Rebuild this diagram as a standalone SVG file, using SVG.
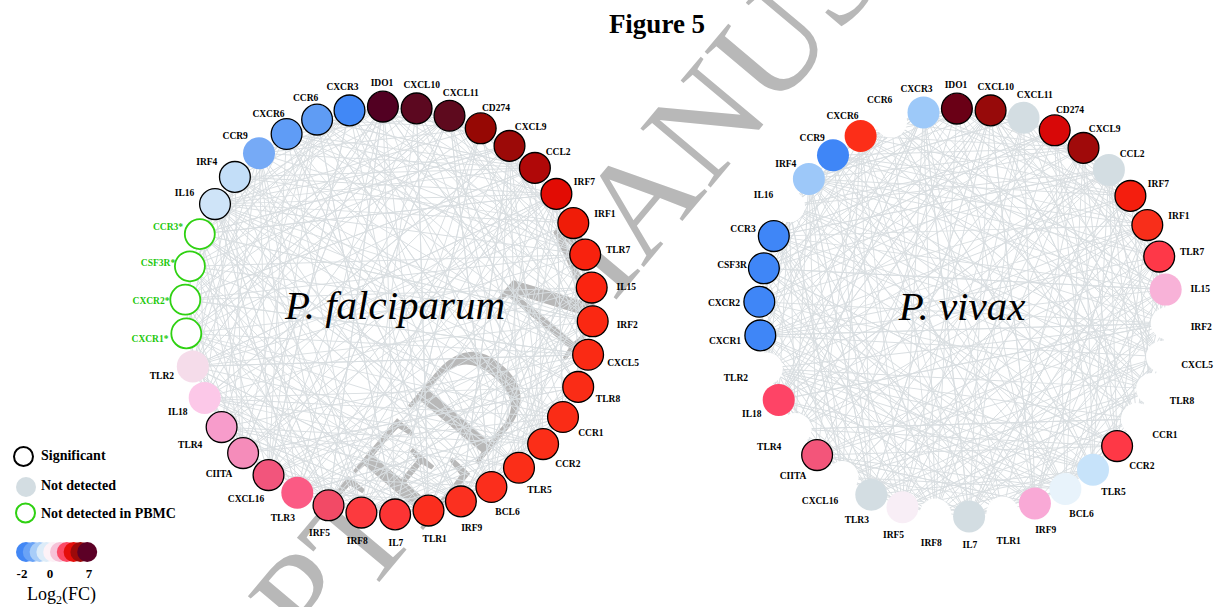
<svg xmlns="http://www.w3.org/2000/svg" xmlns:xlink="http://www.w3.org/1999/xlink" width="1216" height="607" viewBox="0 0 1216 607">
<style>
.e{fill:none;stroke:#d9dee1;stroke-width:0.9}
.s{stroke:#000;stroke-width:1.3}
.g{fill:#fff;stroke:#2fd112;stroke-width:1.8}
.lb{font-family:"Liberation Serif","Times New Roman",serif;font-weight:bold;font-size:9.5px;text-anchor:middle;fill:#000}
.lg{fill:#22c80a}
.leg{font-family:"Liberation Serif","Times New Roman",serif;font-weight:bold;font-size:14px;fill:#000}
.sp{font-family:"Liberation Serif","Times New Roman",serif;font-style:italic;font-size:41px;text-anchor:middle;fill:#000}
</style>
<defs>
<path id="sA" d="M0-204L125.3-160.98M0-204L203.31-16.85M0-204L125.3 160.98M0-204L0 204M0-204L-150.08 138.17M0-204L-186.82-81.95"/>
<path id="sB" d="M0-204L170.79-111.57M0-204L197.76 50.08M0-204L170.79 111.57M0-204L66.24 192.94M0-204L-97.08 179.42M0-204L-203.31 16.85"/>
<path id="sC" d="M0-204L97.08-179.42M0-204L197.76-50.08M0-204L150.08 138.17M0-204L-33.58 201.23M0-204L-186.82 81.95M0-204L-150.08-138.17"/>
<path id="sD" d="M0-204L150.08-138.17M0-204L203.31 16.85M0-204L97.08 179.42M0-204L33.58 201.23M0-204L-170.79 111.57M0-204L-203.31-16.85"/>
<path id="sE" d="M0-204L66.24-192.94M0-204L186.82-81.95M0-204L186.82 81.95M0-204L-66.24 192.94M0-204L-197.76 50.08M0-204L-97.08-179.42"/>
</defs>
<rect width="1216" height="607" fill="#fff"/>
<g id="watermark">
<text x="-933" y="46" transform="translate(640 200) rotate(-50)" font-family="Liberation Serif, serif" font-size="140" fill="#b8b8b8">ACCEPTED MANUSCRIPT</text>
</g>
<g id="edges-pf" class="e" transform="translate(389 310.5)">
<use href="#sA" transform="rotate(-1.7)"/><use href="#sB" transform="rotate(7.774)"/><use href="#sC" transform="rotate(17.247)"/><use href="#sD" transform="rotate(26.721)"/>
<use href="#sB" transform="rotate(36.195)"/><use href="#sA" transform="rotate(45.668)"/><use href="#sD" transform="rotate(55.142)"/><use href="#sC" transform="rotate(64.616)"/>
<use href="#sA" transform="rotate(74.09)"/><use href="#sC" transform="rotate(83.563)"/><use href="#sB" transform="rotate(93.037)"/><use href="#sD" transform="rotate(102.511)"/>
<use href="#sC" transform="rotate(111.984)"/><use href="#sA" transform="rotate(121.458)"/><use href="#sB" transform="rotate(130.932)"/><use href="#sD" transform="rotate(140.405)"/>
<use href="#sA" transform="rotate(149.879)"/><use href="#sD" transform="rotate(159.353)"/><use href="#sC" transform="rotate(168.826)"/><use href="#sB" transform="rotate(178.3)"/>
<use href="#sA" transform="rotate(187.774)"/><use href="#sB" transform="rotate(197.247)"/><use href="#sD" transform="rotate(206.721)"/><use href="#sC" transform="rotate(216.195)"/>
<use href="#sC" transform="rotate(225.668)"/><use href="#sA" transform="rotate(235.142)"/><use href="#sD" transform="rotate(244.616)"/><use href="#sB" transform="rotate(254.089)"/>
<use href="#sA" transform="rotate(263.563)"/><use href="#sC" transform="rotate(273.037)"/><use href="#sD" transform="rotate(282.511)"/><use href="#sB" transform="rotate(291.984)"/>
<use href="#sB" transform="rotate(301.458)"/><use href="#sD" transform="rotate(310.932)"/><use href="#sA" transform="rotate(320.405)"/><use href="#sC" transform="rotate(329.879)"/>
<use href="#sD" transform="rotate(339.353)"/><use href="#sA" transform="rotate(348.826)"/>
<use href="#sE" transform="rotate(-1.7)"/><use href="#sE" transform="rotate(17.247)"/><use href="#sE" transform="rotate(36.195)"/><use href="#sE" transform="rotate(55.142)"/>
<use href="#sE" transform="rotate(74.09)"/><use href="#sE" transform="rotate(93.037)"/><use href="#sE" transform="rotate(111.984)"/><use href="#sE" transform="rotate(130.932)"/>
<use href="#sE" transform="rotate(149.879)"/><use href="#sE" transform="rotate(168.826)"/><use href="#sE" transform="rotate(187.774)"/><use href="#sE" transform="rotate(206.721)"/>
<use href="#sE" transform="rotate(225.668)"/><use href="#sE" transform="rotate(244.616)"/><use href="#sE" transform="rotate(263.563)"/><use href="#sE" transform="rotate(282.511)"/>
<use href="#sE" transform="rotate(301.458)"/><use href="#sE" transform="rotate(320.405)"/><use href="#sE" transform="rotate(339.353)"/>
</g>
<g id="edges-pv" class="e" transform="translate(963 312.5)">
<use href="#sC" transform="rotate(-1.7)"/><use href="#sD" transform="rotate(7.774)"/><use href="#sA" transform="rotate(17.247)"/><use href="#sB" transform="rotate(26.721)"/>
<use href="#sD" transform="rotate(36.195)"/><use href="#sC" transform="rotate(45.668)"/><use href="#sB" transform="rotate(55.142)"/><use href="#sA" transform="rotate(64.616)"/>
<use href="#sC" transform="rotate(74.09)"/><use href="#sA" transform="rotate(83.563)"/><use href="#sD" transform="rotate(93.037)"/><use href="#sB" transform="rotate(102.511)"/>
<use href="#sA" transform="rotate(111.984)"/><use href="#sC" transform="rotate(121.458)"/><use href="#sD" transform="rotate(130.932)"/><use href="#sB" transform="rotate(140.405)"/>
<use href="#sC" transform="rotate(149.879)"/><use href="#sB" transform="rotate(159.353)"/><use href="#sA" transform="rotate(168.826)"/><use href="#sD" transform="rotate(178.3)"/>
<use href="#sC" transform="rotate(187.774)"/><use href="#sD" transform="rotate(197.247)"/><use href="#sB" transform="rotate(206.721)"/><use href="#sA" transform="rotate(216.195)"/>
<use href="#sA" transform="rotate(225.668)"/><use href="#sC" transform="rotate(235.142)"/><use href="#sB" transform="rotate(244.616)"/><use href="#sD" transform="rotate(254.089)"/>
<use href="#sC" transform="rotate(263.563)"/><use href="#sA" transform="rotate(273.037)"/><use href="#sB" transform="rotate(282.511)"/><use href="#sD" transform="rotate(291.984)"/>
<use href="#sD" transform="rotate(301.458)"/><use href="#sB" transform="rotate(310.932)"/><use href="#sC" transform="rotate(320.405)"/><use href="#sA" transform="rotate(329.879)"/>
<use href="#sB" transform="rotate(339.353)"/><use href="#sC" transform="rotate(348.826)"/>
<use href="#sE" transform="rotate(7.774)"/><use href="#sE" transform="rotate(26.721)"/><use href="#sE" transform="rotate(45.668)"/><use href="#sE" transform="rotate(64.616)"/>
<use href="#sE" transform="rotate(83.563)"/><use href="#sE" transform="rotate(102.511)"/><use href="#sE" transform="rotate(121.458)"/><use href="#sE" transform="rotate(140.405)"/>
<use href="#sE" transform="rotate(159.353)"/><use href="#sE" transform="rotate(178.3)"/><use href="#sE" transform="rotate(197.247)"/><use href="#sE" transform="rotate(216.195)"/>
<use href="#sE" transform="rotate(235.142)"/><use href="#sE" transform="rotate(254.089)"/><use href="#sE" transform="rotate(273.037)"/><use href="#sE" transform="rotate(291.984)"/>
<use href="#sE" transform="rotate(310.932)"/><use href="#sE" transform="rotate(329.879)"/><use href="#sE" transform="rotate(348.826)"/>
</g>
<text id="title" x="657" y="33" font-family="Liberation Serif, serif" font-weight="bold" font-size="27" text-anchor="middle">Figure 5</text>
<text id="label-pf" class="sp" x="395" y="319">P. falciparum</text>
<text id="label-pv" class="sp" x="962" y="320">P. vivax</text>
<g id="pf-nodes">
<g id="pf-IDO1"><circle cx="382.9" cy="106.6" r="15.4" class="s" fill="#520022"/><text class="lb" x="382" y="86.1">IDO1</text></g>
<g id="pf-CXCL10"><circle cx="416.6" cy="108.4" r="15.4" class="s" fill="#5c0820"/><text class="lb" x="421.7" y="88.1">CXCL10</text></g>
<g id="pf-CXCL11"><circle cx="449.5" cy="115.7" r="15.4" class="s" fill="#5e0a1e"/><text class="lb" x="460.8" y="96.3">CXCL11</text></g>
<g id="pf-CD274"><circle cx="480.7" cy="128.3" r="15.4" class="s" fill="#960804"/><text class="lb" x="496" y="110.6">CD274</text></g>
<g id="pf-CXCL9"><circle cx="509.5" cy="145.9" r="15.4" class="s" fill="#9c0a08"/><text class="lb" x="530.7" y="130.4">CXCL9</text></g>
<g id="pf-CCL2"><circle cx="534.9" cy="167.9" r="15.4" class="s" fill="#b00808"/><text class="lb" x="558.1" y="155.2">CCL2</text></g>
<g id="pf-IRF7"><circle cx="556.4" cy="193.9" r="15.4" class="s" fill="#e20c04"/><text class="lb" x="584.4" y="184.5">IRF7</text></g>
<g id="pf-IRF1"><circle cx="573.3" cy="223.1" r="15.4" class="s" fill="#f01c08"/><text class="lb" x="604.9" y="217.4">IRF1</text></g>
<g id="pf-TLR7"><circle cx="585.2" cy="254.6" r="15.4" class="s" fill="#f8220e"/><text class="lb" x="618.1" y="253">TLR7</text></g>
<g id="pf-IL15"><circle cx="591.7" cy="287.6" r="15.4" class="s" fill="#fa2410"/><text class="lb" x="626.3" y="290.2">IL15</text></g>
<g id="pf-IRF2"><circle cx="592.7" cy="321.3" r="15.4" class="s" fill="#fa2812"/><text class="lb" x="627.2" y="328.2">IRF2</text></g>
<g id="pf-CXCL5"><circle cx="588.1" cy="354.7" r="15.4" class="s" fill="#fa2a14"/><text class="lb" x="623.1" y="365.8">CXCL5</text></g>
<g id="pf-TLR8"><circle cx="578.2" cy="386.9" r="15.4" class="s" fill="#fa2c16"/><text class="lb" x="608" y="402.1">TLR8</text></g>
<g id="pf-CCR1"><circle cx="563" cy="417" r="15.4" class="s" fill="#fa2c16"/><text class="lb" x="590.9" y="436">CCR1</text></g>
<g id="pf-CCR2"><circle cx="543.1" cy="444.1" r="15.4" class="s" fill="#fb2e18"/><text class="lb" x="567.8" y="466.7">CCR2</text></g>
<g id="pf-TLR5"><circle cx="519" cy="467.7" r="15.4" class="s" fill="#fb2e18"/><text class="lb" x="539.5" y="493.3">TLR5</text></g>
<g id="pf-BCL6"><circle cx="491.4" cy="487" r="15.4" class="s" fill="#fb2e1c"/><text class="lb" x="507.5" y="515">BCL6</text></g>
<g id="pf-IRF9"><circle cx="460.9" cy="501.4" r="15.4" class="s" fill="#fb3020"/><text class="lb" x="471.7" y="531.2">IRF9</text></g>
<g id="pf-TLR1"><circle cx="428.5" cy="510.6" r="15.4" class="s" fill="#fb2e1e"/><text class="lb" x="434.7" y="541.7">TLR1</text></g>
<g id="pf-IL7"><circle cx="395.1" cy="514.4" r="15.4" class="s" fill="#fc3434"/><text class="lb" x="395.9" y="545.9">IL7</text></g>
<g id="pf-IRF8"><circle cx="361.4" cy="512.6" r="15.4" class="s" fill="#fc3a3e"/><text class="lb" x="357.3" y="543.9">IRF8</text></g>
<g id="pf-IRF5"><circle cx="328.5" cy="505.3" r="15.4" class="s" fill="#f24a66"/><text class="lb" x="319.5" y="535.7">IRF5</text></g>
<g id="pf-TLR3"><circle cx="297.3" cy="492.7" r="16" fill="#fb5a84"/><text class="lb" x="282.8" y="521.4">TLR3</text></g>
<g id="pf-CXCL16"><circle cx="268.5" cy="475.1" r="15.4" class="s" fill="#f2557c"/><text class="lb" x="246" y="501.6">CXCL16</text></g>
<g id="pf-CIITA"><circle cx="243.1" cy="453.1" r="15.4" class="s" fill="#f58cba"/><text class="lb" x="219" y="476.8">CIITA</text></g>
<g id="pf-TLR4"><circle cx="221.6" cy="427.1" r="15.4" class="s" fill="#f79ccb"/><text class="lb" x="190.2" y="447.5">TLR4</text></g>
<g id="pf-IL18"><circle cx="204.7" cy="397.9" r="16" fill="#fcc8e8"/><text class="lb" x="177.8" y="414.6">IL18</text></g>
<g id="pf-TLR2"><circle cx="192.8" cy="366.4" r="16" fill="#f5dcea"/><text class="lb" x="161.9" y="379">TLR2</text></g>
<g id="pf-CXCR1"><circle cx="186.3" cy="333.4" r="15" class="g"/><text class="lb lg" x="150" y="341.8">CXCR1*</text></g>
<g id="pf-CXCR2"><circle cx="185.3" cy="299.7" r="15" class="g"/><text class="lb lg" x="151" y="303.8">CXCR2*</text></g>
<g id="pf-CSF3R"><circle cx="189.9" cy="266.3" r="15" class="g"/><text class="lb lg" x="158" y="266.2">CSF3R*</text></g>
<g id="pf-CCR3"><circle cx="199.8" cy="234.1" r="15" class="g"/><text class="lb lg" x="168" y="229.9">CCR3*</text></g>
<g id="pf-IL16"><circle cx="215" cy="204.1" r="15.4" class="s" fill="#cfe4f8"/><text class="lb" x="184.6" y="196">IL16</text></g>
<g id="pf-IRF4"><circle cx="234.9" cy="176.9" r="15.4" class="s" fill="#c3def8"/><text class="lb" x="206.8" y="165.3">IRF4</text></g>
<g id="pf-CCR9"><circle cx="259" cy="153.3" r="16" fill="#76aaf6"/><text class="lb" x="235.2" y="138.7">CCR9</text></g>
<g id="pf-CXCR6"><circle cx="286.6" cy="134" r="15.4" class="s" fill="#5f9cf6"/><text class="lb" x="268.5" y="117">CXCR6</text></g>
<g id="pf-CCR6"><circle cx="317.1" cy="119.6" r="15.4" class="s" fill="#5f9cf4"/><text class="lb" x="305.6" y="100.8">CCR6</text></g>
<g id="pf-CXCR3"><circle cx="349.5" cy="110.4" r="15.4" class="s" fill="#4188f6"/><text class="lb" x="342.5" y="90.3">CXCR3</text></g>
</g>
<g id="pv-nodes">
<g id="pv-IDO1"><circle cx="956.9" cy="108.6" r="15.4" class="s" fill="#6a0016"/><text class="lb" x="956" y="88.1">IDO1</text></g>
<g id="pv-CXCL10"><circle cx="990.6" cy="110.4" r="15.4" class="s" fill="#970a0a"/><text class="lb" x="995.7" y="90.1">CXCL10</text></g>
<g id="pv-CXCL11"><circle cx="1023.5" cy="117.7" r="16" fill="#d3dde2"/><text class="lb" x="1034.8" y="98.3">CXCL11</text></g>
<g id="pv-CD274"><circle cx="1054.7" cy="130.3" r="15.4" class="s" fill="#d80808"/><text class="lb" x="1070" y="112.6">CD274</text></g>
<g id="pv-CXCL9"><circle cx="1083.5" cy="147.9" r="15.4" class="s" fill="#a00a0a"/><text class="lb" x="1104.7" y="132.4">CXCL9</text></g>
<g id="pv-CCL2"><circle cx="1108.9" cy="169.9" r="16" fill="#d3dde2"/><text class="lb" x="1132.1" y="157.2">CCL2</text></g>
<g id="pv-IRF7"><circle cx="1130.4" cy="195.9" r="15.4" class="s" fill="#f41e0e"/><text class="lb" x="1158.4" y="186.5">IRF7</text></g>
<g id="pv-IRF1"><circle cx="1147.3" cy="225.1" r="15.4" class="s" fill="#f82e1a"/><text class="lb" x="1178.9" y="219.4">IRF1</text></g>
<g id="pv-TLR7"><circle cx="1159.2" cy="256.6" r="15.4" class="s" fill="#fe3848"/><text class="lb" x="1192.1" y="255">TLR7</text></g>
<g id="pv-IL15"><circle cx="1165.7" cy="289.6" r="16" fill="#f8b2d8"/><text class="lb" x="1200.3" y="292.2">IL15</text></g>
<g id="pv-IRF2"><circle cx="1166.7" cy="323.3" r="16" fill="#fff"/><text class="lb" x="1201.2" y="330.2">IRF2</text></g>
<g id="pv-CXCL5"><circle cx="1162.1" cy="356.7" r="16" fill="#fff"/><text class="lb" x="1197.1" y="367.8">CXCL5</text></g>
<g id="pv-TLR8"><circle cx="1152.2" cy="388.9" r="16" fill="#fff"/><text class="lb" x="1182" y="404.1">TLR8</text></g>
<g id="pv-CCR1"><circle cx="1137" cy="419" r="16" fill="#fff"/><text class="lb" x="1164.9" y="438">CCR1</text></g>
<g id="pv-CCR2"><circle cx="1117.1" cy="446.1" r="15.4" class="s" fill="#fe3846"/><text class="lb" x="1141.8" y="468.7">CCR2</text></g>
<g id="pv-TLR5"><circle cx="1093" cy="469.7" r="16" fill="#c7e3fa"/><text class="lb" x="1113.5" y="495.3">TLR5</text></g>
<g id="pv-BCL6"><circle cx="1065.4" cy="489" r="16" fill="#e8f3fb"/><text class="lb" x="1081.5" y="517">BCL6</text></g>
<g id="pv-IRF9"><circle cx="1034.9" cy="503.4" r="16" fill="#f9a9d6"/><text class="lb" x="1045.7" y="533.2">IRF9</text></g>
<g id="pv-TLR1"><circle cx="1002.5" cy="512.6" r="16" fill="#fff"/><text class="lb" x="1008.7" y="543.7">TLR1</text></g>
<g id="pv-IL7"><circle cx="969.1" cy="516.4" r="16" fill="#d3dde2"/><text class="lb" x="969.9" y="547.9">IL7</text></g>
<g id="pv-IRF8"><circle cx="935.4" cy="514.6" r="16" fill="#fff"/><text class="lb" x="931.3" y="545.9">IRF8</text></g>
<g id="pv-IRF5"><circle cx="902.5" cy="507.3" r="16" fill="#f8eef6"/><text class="lb" x="893.5" y="537.7">IRF5</text></g>
<g id="pv-TLR3"><circle cx="871.3" cy="494.7" r="16" fill="#d3dde2"/><text class="lb" x="856.8" y="523.4">TLR3</text></g>
<g id="pv-CXCL16"><circle cx="842.5" cy="477.1" r="16" fill="#fff"/><text class="lb" x="820" y="503.6">CXCL16</text></g>
<g id="pv-CIITA"><circle cx="817.1" cy="455.1" r="15.4" class="s" fill="#f3557a"/><text class="lb" x="793" y="478.8">CIITA</text></g>
<g id="pv-TLR4"><circle cx="795.6" cy="429.1" r="16" fill="#fff"/><text class="lb" x="769.2" y="449.5">TLR4</text></g>
<g id="pv-IL18"><circle cx="778.7" cy="399.9" r="16" fill="#fe4466"/><text class="lb" x="751.8" y="416.6">IL18</text></g>
<g id="pv-TLR2"><circle cx="766.8" cy="368.4" r="16" fill="#fff"/><text class="lb" x="735.9" y="381">TLR2</text></g>
<g id="pv-CXCR1"><circle cx="760.3" cy="335.4" r="15.4" class="s" fill="#3f86f7"/><text class="lb" x="725" y="343.8">CXCR1</text></g>
<g id="pv-CXCR2"><circle cx="759.3" cy="301.7" r="15.4" class="s" fill="#3f86f7"/><text class="lb" x="724" y="305.8">CXCR2</text></g>
<g id="pv-CSF3R"><circle cx="763.9" cy="268.3" r="15.4" class="s" fill="#3f86f7"/><text class="lb" x="732" y="268.2">CSF3R</text></g>
<g id="pv-CCR3"><circle cx="773.8" cy="236.1" r="15.4" class="s" fill="#3f86f7"/><text class="lb" x="743" y="231.9">CCR3</text></g>
<g id="pv-IL16"><circle cx="789" cy="206.1" r="16" fill="#fff"/><text class="lb" x="763.6" y="198">IL16</text></g>
<g id="pv-IRF4"><circle cx="808.9" cy="178.9" r="16" fill="#9dc8f9"/><text class="lb" x="785.8" y="167.3">IRF4</text></g>
<g id="pv-CCR9"><circle cx="833" cy="155.3" r="16" fill="#3f86f7"/><text class="lb" x="812.2" y="140.7">CCR9</text></g>
<g id="pv-CXCR6"><circle cx="860.6" cy="136" r="16" fill="#fc2e18"/><text class="lb" x="842.5" y="119">CXCR6</text></g>
<g id="pv-CCR6"><circle cx="891.1" cy="121.6" r="16" fill="#fff"/><text class="lb" x="879.6" y="102.8">CCR6</text></g>
<g id="pv-CXCR3"><circle cx="923.5" cy="112.4" r="16" fill="#9dc9f9"/><text class="lb" x="916.5" y="92.3">CXCR3</text></g>
</g>
<g id="legend">
<circle cx="23.5" cy="456.5" r="9.5" fill="none" stroke="#000" stroke-width="2"/>
<text class="leg" x="41" y="460">Significant</text>
<circle cx="26" cy="487" r="10" fill="#d3dde2"/>
<text class="leg" x="41" y="489.5">Not detected</text>
<circle cx="25.5" cy="513" r="9.5" fill="#fff" stroke="#2fd112" stroke-width="2"/>
<text class="leg" x="41" y="517.5">Not detected in PBMC</text>
<g id="scale">
<circle cx="26" cy="552" r="10" fill="#4287f5"/>
<circle cx="32.8" cy="552" r="10" fill="#6aa3f6"/>
<circle cx="39.6" cy="552" r="10" fill="#a8cdf8"/>
<circle cx="46.4" cy="552" r="10" fill="#ddecf8"/>
<circle cx="53.2" cy="552" r="10" fill="#fdf2f7"/>
<circle cx="60" cy="552" r="10" fill="#f7c2d8"/>
<circle cx="66.8" cy="552" r="10" fill="#fb4a66"/>
<circle cx="73.6" cy="552" r="10" fill="#e50e0a"/>
<circle cx="80.4" cy="552" r="10" fill="#9c0a0a"/>
<circle cx="87.2" cy="552" r="10" fill="#5c0026"/>
</g>
<text font-family="Liberation Serif, serif" font-weight="bold" font-size="13" text-anchor="middle" x="22" y="578">-2</text>
<text font-family="Liberation Serif, serif" font-weight="bold" font-size="13" text-anchor="middle" x="50" y="578">0</text>
<text font-family="Liberation Serif, serif" font-weight="bold" font-size="13" text-anchor="middle" x="89" y="578">7</text>
<text font-family="Liberation Serif, serif" font-size="18" x="27" y="600">Log<tspan font-size="12" dy="4">2</tspan><tspan dy="-4">(FC)</tspan></text>
</g>
</svg>
